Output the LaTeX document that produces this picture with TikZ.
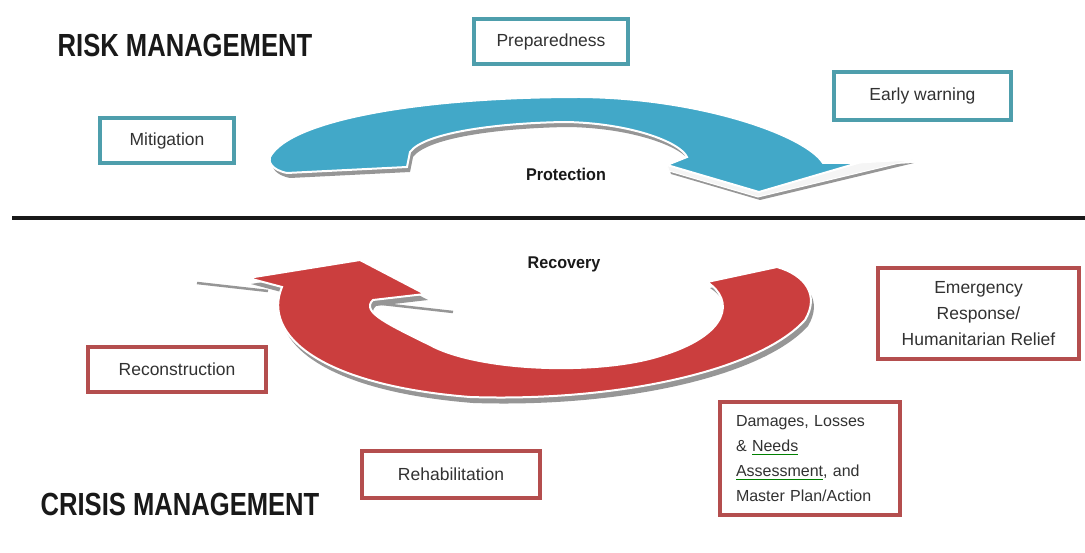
\documentclass[tikz,border=0pt]{standalone}
\usepackage{fontspec}
\setmainfont{Liberation Sans}
\newfontfamily\headfont[FakeStretch=0.8]{Liberation Sans Bold}
\newfontfamily\labfont[FakeStretch=0.95]{Liberation Sans Bold}
\definecolor{arrowblue}{RGB}{66,168,200}
\definecolor{boxteal}{RGB}{78,158,172}
\definecolor{arrowred}{RGB}{203,62,62}
\definecolor{boxred}{RGB}{180,78,78}
\definecolor{txt}{RGB}{50,50,50}
\definecolor{shadowgrey}{RGB}{150,150,150}
\newlength\gulw
\newcommand\gul[1]{\settowidth\gulw{#1}\leavevmode\rlap{\textcolor{green!50!black}{\rule[-3pt]{\gulw}{0.8pt}}}#1}
\begin{document}
\begin{tikzpicture}[x=1pt,y=-1pt,
  boxtxt/.style={font=\fontsize{17.5}{26}\selectfont, text=txt, inner sep=0pt, fill=white, line width=4pt},
  bluebox/.style={boxtxt, draw=boxteal},
  redbox/.style={boxtxt, draw=boxred},
  heading/.style={font=\headfont\fontsize{32}{36}\selectfont, text=black!90, inner sep=0pt},
  midlabel/.style={font=\labfont\fontsize{17}{20}\selectfont, text=black!90, inner sep=0pt},
  blueshape/.style={insert path={
    (270,157) .. controls (290,120) and (420,97) .. (580,97)
    .. controls (700,98) and (805,135) .. (823,163)
    -- (858,163) -- (759,192) -- (667,165) -- (687,157)
    .. controls (680,142) and (630,123) .. (565,122)
    .. controls (500,123) and (425,132) .. (410,152)
    -- (407,167) -- (287,173)
    .. controls (272,170) and (268,162) .. (270,157) -- cycle}},
  blueside/.style={insert path={
    (667,165) -- (759,192) -- (858,163) -- (912,160) -- (758,197) -- (669,171) -- cycle}},
  redshape/.style={insert path={
    (373,300) -- (425,294) -- (360,260) -- (248,278) -- (282,287)
    .. controls (262,335) and (320,385) .. (470,397)
    .. controls (620,402) and (760,370) .. (805,320)
    .. controls (820,295) and (805,275) .. (777,267)
    -- (707,282)
    .. controls (735,300) and (730,335) .. (660,356)
    .. controls (600,375) and (480,372) .. (430,345)
    .. controls (390,325) and (360,312) .. (373,300) -- cycle}}
]
\useasboundingbox[fill=white] (0,0) rectangle (1085,553);

% divider
\coordinate (lineL) at (12,218);
\coordinate (lineR) at (1085,218);
\draw[line width=4pt, black!90] (lineL) -- (lineR);

% blue arrow
\path[fill=shadowgrey, shift={(3,5)}, blueshape];
\path[fill=shadowgrey, shift={(2,3)}, blueside];
\path[fill=gray!8, draw=white, line width=1pt, blueside];
\path[fill=arrowblue, draw=white, line width=2pt, blueshape];

% red arrow
\path[fill=shadowgrey, shift={(3,6)}, redshape];
\path[fill=arrowred, draw=white, line width=2pt, redshape];
\draw[shadowgrey, line width=2.5pt] (197,283) -- (268,291);
\draw[shadowgrey, line width=2.5pt] (382,304) -- (453,312);

% headings
\node[heading] (risk) at (185,45) {RISK MANAGEMENT};
\node[heading] (crisis) at (180,504) {CRISIS MANAGEMENT};

% middle labels
\node[midlabel] (prot) at (566,174) {Protection};
\node[midlabel] (recov) at (564,264) {Recovery};

% blue boxes
\node[bluebox, minimum width=154pt, minimum height=45pt] (prep) at (551,41.5) {Preparedness};
\node[bluebox, minimum width=134pt, minimum height=45pt] (mitig) at (167,140.5) {Mitigation};
\node[bluebox, minimum width=177pt, minimum height=48pt] (early) at (922.5,96) {Early warning};

% red boxes
\node[redbox, minimum width=201pt, minimum height=91pt, align=center] (emerg) at (978.5,313.5)
  {Emergency\\Response/\\Humanitarian Relief};
\node[redbox, minimum width=178pt, minimum height=45pt] (recon) at (177,369.5) {Reconstruction};
\node[redbox, minimum width=178pt, minimum height=47pt] (rehab) at (451,474.5) {Rehabilitation};
\node[redbox, minimum width=180pt, minimum height=113pt, text width=148pt, align=left,
  font=\fontsize{16}{25}\selectfont] (damage) at (810,458.5)
  {Damages, Losses\\\& \gul{Needs}\\\gul{Assessment}, and\\Master Plan/Action};
\end{tikzpicture}
\end{document}
